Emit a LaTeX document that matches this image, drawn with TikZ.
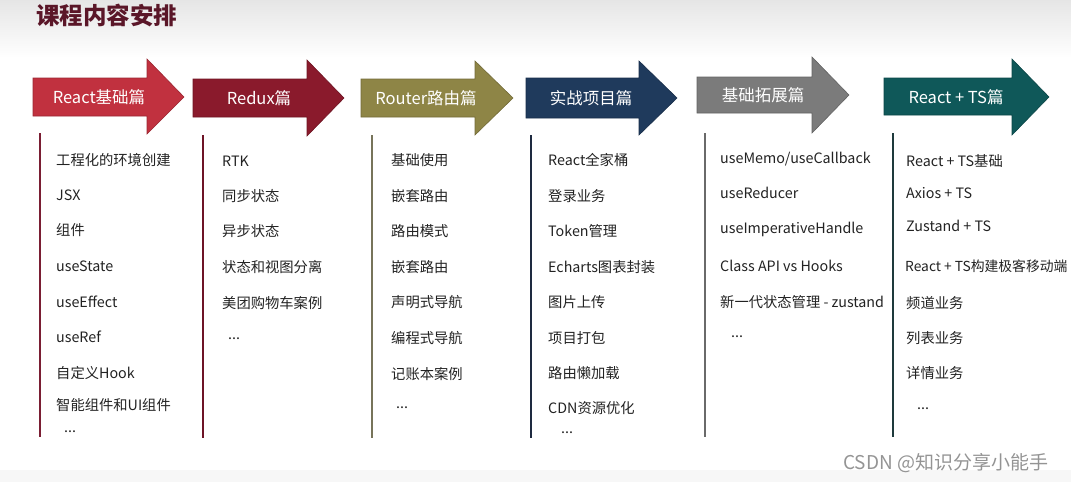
\documentclass[tikz,border=0pt]{standalone}
\usepackage{fontspec}
\setmainfont{Noto Sans CJK SC}
\definecolor{cA}{HTML}{C1313F}
\definecolor{cB}{HTML}{8A1A2C}
\definecolor{cC}{HTML}{8E8546}
\definecolor{cD}{HTML}{1F3A5C}
\definecolor{cE}{HTML}{7B7B7B}
\definecolor{cF}{HTML}{0F5859}
\definecolor{lA}{HTML}{7A1E33}
\definecolor{lB}{HTML}{6E1426}
\definecolor{lC}{HTML}{77745A}
\definecolor{lD}{HTML}{1E2A40}
\definecolor{lE}{HTML}{6A6A6A}
\definecolor{lF}{HTML}{1E3A3C}
\definecolor{titlec}{HTML}{5A1628}
\definecolor{itemc}{HTML}{222222}
\tikzset{
  arrowbox/.style={line width=0.6pt, line join=miter},
  lab/.style={text=white, font=\fontsize{16.5}{19}\selectfont, inner sep=0pt},
  item/.style={anchor=west, text=itemc, font=\fontsize{14.3}{17}\selectfont, inner sep=0pt},
  vline/.style={line width=2.2pt},
}
\begin{document}
\begin{tikzpicture}[x=1pt,y=-1pt]
\useasboundingbox (0,0) rectangle (1071,482);
\clip (0,0) rectangle (1071,482);
\shade[top color=black!10, bottom color=white] (0,0) rectangle (1071,58);
\fill[black!3] (0,470) rectangle (1071,482);
\node[anchor=west, text=titlec, font=\fontsize{23.5}{27}\selectfont\bfseries, inner sep=0pt] (title) at (36,15) {课程内容安排};

% arrows
\filldraw[arrowbox, fill=cA, draw=cA!80!black] (33,78) -- (147,78) -- (147,59) -- (184,97) -- (147,134) -- (147,116) -- (33,116) -- cycle;
\node[lab] (h1) at (99,97) {React基础篇};
\filldraw[arrowbox, fill=cB, draw=cB!80!black] (193,79) -- (307,79) -- (307,60) -- (344,98) -- (307,136) -- (307,117) -- (193,117) -- cycle;
\node[lab] (h2) at (259,98) {Redux篇};
\filldraw[arrowbox, fill=cC, draw=cC!80!black] (361,79) -- (475,79) -- (475,61) -- (513,98) -- (475,135) -- (475,117) -- (361,117) -- cycle;
\node[lab] (h3) at (426,98) {Router路由篇};
\filldraw[arrowbox, fill=cD, draw=cD!80!black] (526,78) -- (639,78) -- (639,61) -- (677,98) -- (639,135) -- (639,118) -- (526,118) -- cycle;
\node[lab] (h4) at (591,98) {实战项目篇};
\filldraw[arrowbox, fill=cE, draw=cE!80!black] (697,77) -- (812,77) -- (812,57) -- (849,95) -- (812,133) -- (812,113) -- (697,113) -- cycle;
\node[lab] (h5) at (763,95) {基础拓展篇};
\filldraw[arrowbox, fill=cF, draw=cF!80!black] (884,78) -- (1012,78) -- (1012,59) -- (1049,97) -- (1012,135) -- (1012,115) -- (884,115) -- cycle;
\node[lab] (h6) at (956,97) {React + TS篇};

% vertical lines
\coordinate (v1a) at (40,133); \coordinate (v1b) at (40,437);
\coordinate (v2a) at (203,135); \coordinate (v2b) at (203,438);
\coordinate (v3a) at (372,135); \coordinate (v3b) at (372,438);
\coordinate (v4a) at (531,135); \coordinate (v4b) at (531,438);
\coordinate (v5a) at (705,133); \coordinate (v5b) at (705,437);
\coordinate (v6a) at (893,133); \coordinate (v6b) at (893,437);
\draw[vline, lA] (v1a) -- (v1b);
\draw[vline, lB] (v2a) -- (v2b);
\draw[vline, lC] (v3a) -- (v3b);
\draw[vline, lD] (v4a) -- (v4b);
\draw[vline, lE] (v5a) -- (v5b);
\draw[vline, lF] (v6a) -- (v6b);

% column 1
\node[item] (a1) at (56,160) {工程化的环境创建};
\node[item] (a2) at (56,195) {JSX};
\node[item] (a3) at (56,230) {组件};
\node[item] (a4) at (56,266) {useState};
\node[item] (a5) at (56,302) {useEffect};
\node[item] (a6) at (56,337) {useRef};
\node[item] (a7) at (56,373) {自定义Hook};
\node[item] (a8) at (56,405) {智能组件和UI组件};
\node[item] (a9) at (64,432) {...};
% column 2
\node[item] (b1) at (222,161) {RTK};
\node[item] (b2) at (222,196) {同步状态};
\node[item] (b3) at (222,231) {异步状态};
\node[item] (b4) at (222,267) {状态和视图分离};
\node[item] (b5) at (222,303) {美团购物车案例};
\node[item] (b6) at (228,339) {...};
% column 3
\node[item] (c1) at (391,160) {基础使用};
\node[item] (c2) at (391,196) {嵌套路由};
\node[item] (c3) at (391,231) {路由模式};
\node[item] (c4) at (391,267) {嵌套路由};
\node[item] (c5) at (391,302) {声明式导航};
\node[item] (c6) at (391,338) {编程式导航};
\node[item] (c7) at (391,374) {记账本案例};
\node[item] (c8) at (396,408) {...};
% column 4
\node[item] (d1) at (548,160) {React全家桶};
\node[item] (d2) at (548,196) {登录业务};
\node[item] (d3) at (548,231) {Token管理};
\node[item] (d4) at (548,267) {Echarts图表封装};
\node[item] (d5) at (548,302) {图片上传};
\node[item] (d6) at (548,338) {项目打包};
\node[item] (d7) at (548,373) {路由懒加载};
\node[item] (d8) at (548,408) {CDN资源优化};
\node[item] (d9) at (561,433) {...};
% column 5
\node[item] (e1) at (720,159) {useMemo/useCallback};
\node[item] (e2) at (720,193) {useReducer};
\node[item] (e3) at (720,229) {useImperativeHandle};
\node[item] (e4) at (720,266) {Class API vs Hooks};
\node[item] (e5) at (720,302) {新一代状态管理 - zustand};
\node[item] (e6) at (731,337) {...};
% column 6
\node[item] (f1) at (906,161) {React + TS基础};
\node[item] (f2) at (906,193) {Axios + TS};
\node[item] (f3) at (906,226) {Zustand + TS};
\node[item, font=\fontsize{13.8}{17}\selectfont] (f4) at (905,266) {React + TS构建极客移动端};
\node[item] (f5) at (906,303) {频道业务};
\node[item] (f6) at (906,338) {列表业务};
\node[item] (f7) at (906,373) {详情业务};
\node[item] (f8) at (917,409) {...};

\node[anchor=west, text=black!42, font=\fontsize{19}{22}\selectfont, inner sep=0pt] (wm) at (843,463) {CSDN @知识分享小能手};
\end{tikzpicture}
\end{document}
